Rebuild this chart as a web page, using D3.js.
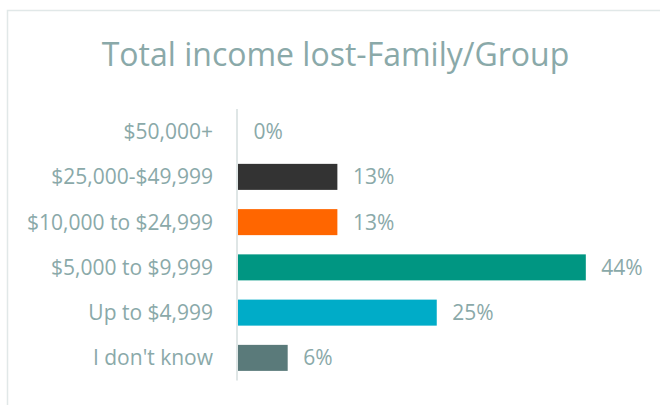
<!DOCTYPE html>
<html>
<head>
<meta charset="utf-8">
<script src="https://cdn.jsdelivr.net/npm/d3@7"></script>
<style>
  body { margin: 0; background: #fff; }
  svg { display: block; font-family: "Open Sans", sans-serif; }
</style>
</head>
<body>
<div id="chart"></div>
<script>
const categories = ['$50,000+', '$25,000-$49,999', '$10,000 to $24,999', '$5,000 to $9,999', 'Up to $4,999', "I don't know"];
const values = [0, 12.5, 12.5, 43.75, 25, 6.25];
const colors = ['#333333', '#333333', '#ff6600', '#009682', '#00acc8', '#5a7a7a'];
const title = 'Total income lost-Family/Group';

const width = 660, height = 405;
const textColor = '#8aa9a9';

const svg = d3.select('#chart').append('svg')
  .attr('width', width)
  .attr('height', height);

// chart frame (only top/left visible in the crop)
svg.append('rect')
  .attr('x', 7.5).attr('y', 10.5)
  .attr('width', 700).attr('height', 420)
  .attr('fill', 'none')
  .attr('stroke', '#e1e8e8')
  .attr('stroke-width', 1.5);

svg.append('text')
  .attr('x', 335.5)
  .attr('y', 66)
  .attr('text-anchor', 'middle')
  .attr('fill', textColor)
  .style('font-size', '32px')
  .text(title);

const x = d3.scaleLinear().domain([0, 50]).range([238, 238 + 397.5]);
const y = d3.scaleBand().domain(categories).range([109, 380.5]).paddingInner(0.425).paddingOuter(0.2125);

// axis line
svg.append('line')
  .attr('x1', 237).attr('x2', 237)
  .attr('y1', 109).attr('y2', 380.5)
  .attr('stroke', '#dfe6e6')
  .attr('stroke-width', 2);

svg.append('g').selectAll('rect')
  .data(values)
  .join('rect')
  .attr('x', x(0))
  .attr('y', (d, i) => y(categories[i]))
  .attr('width', d => x(d) - x(0))
  .attr('height', y.bandwidth())
  .attr('fill', (d, i) => colors[i]);

svg.append('g').selectAll('text')
  .data(categories)
  .join('text')
  .attr('x', 213)
  .attr('y', d => y(d) + y.bandwidth() / 2)
  .attr('dy', '0.36em')
  .attr('text-anchor', 'end')
  .attr('fill', textColor)
  .style('font-size', '21px')
  .text(d => d);

svg.append('g').selectAll('text')
  .data(values)
  .join('text')
  .attr('x', d => x(d) + 15.5)
  .attr('y', (d, i) => y(categories[i]) + y.bandwidth() / 2)
  .attr('dy', '0.36em')
  .attr('fill', textColor)
  .style('font-size', '21px')
  .text(d => Math.round(d) + '%');
</script>
</body>
</html>
